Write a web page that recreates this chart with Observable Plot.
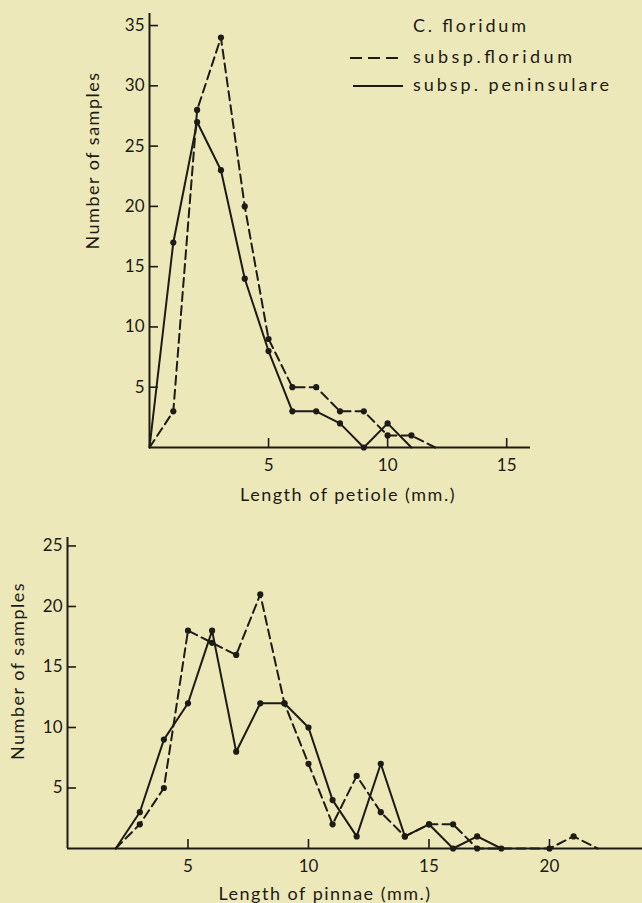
<!DOCTYPE html>
<html><head><meta charset="utf-8">
<script src="https://cdn.jsdelivr.net/npm/d3@7"></script>
<script src="https://cdn.jsdelivr.net/npm/@observablehq/plot@0.6"></script>
<style>
html,body{margin:0;padding:0;background:#ede8b9;}
#wrap{position:relative;width:642px;height:903px;background:#ede8b9;overflow:hidden;font-family:Lato,"DejaVu Sans",sans-serif;color:#1c1b16;}
#top,#bottom,#legend{position:absolute;left:0;}
#top{top:0}
#bottom{top:520px}
#legend{top:0;left:0}
svg{overflow:visible}
</style></head>
<body><div id="wrap"><div id="top"></div><div id="bottom"></div><div id="legend"></div></div>
<script>
// ---- data ----
const petioleFloridumX = [0,1,2,3,4,5,6,7,8,9,10,11,12];
const petioleFloridum  = [0,3,28,34,20,9,5,5,3,3,1,1,0];
const petiolePeninsulareX = [0,1,2,3,4,5,6,7,8,9,10,11];
const petiolePeninsulare  = [0,17,27,23,14,8,3,3,2,0,2,0];

const pinnaeFloridumX = [2,3,4,5,6,7,8,9,10,11,12,13,14,15,16,17,18,20,21,22];
const pinnaeFloridum  = [0,2,5,18,17,16,21,12,7,2,6,3,1,2,2,0,0,0,1,0];
const pinnaePeninsulareX = [2,3,4,5,6,7,8,9,10,11,12,13,14,15,16,17,18];
const pinnaePeninsulare  = [0,3,9,12,18,8,12,12,10,4,1,7,1,2,0,1,0];

const topXTicks = [5,10,15];
const topYTicks = [5,10,15,20,25,30,35];
const bottomXTicks = [5,10,15,20];
const bottomYTicks = [5,10,15,20,25];

const legendTitle = "C. floridum";
const seriesNames = ["subsp.floridum", "subsp. peninsulare"];
const topXLabel = "Length of petiole (mm.)";
const bottomXLabel = "Length of pinnae (mm.)";
const yLabel = "Number of samples";

// ---- helpers ----
const ink = "#1c1b16";
const FONT = "Lato, 'DejaVu Sans', sans-serif";
const toRows = (xs, ys) => xs.map((x, i) => ({x, y: ys[i], inner: i > 0 && i < xs.length - 1}));

function seriesMarks(rows, dashed) {
  return [
    Plot.line(rows, {x: "x", y: "y", stroke: ink, strokeWidth: 2, strokeDasharray: dashed ? "9,5" : null, strokeLinejoin: "miter"}),
    Plot.dot(rows.filter(d => d.inner), {x: "x", y: "y", r: 3.1, fill: ink, stroke: "none"})
  ];
}

function axes(xTicks, yTicks) {
  return [
    Plot.ruleY([0], {stroke: ink, strokeWidth: 2}),
    Plot.ruleX([0], {stroke: ink, strokeWidth: 2}),
    Plot.axisX({ticks: xTicks, tickSize: -9, tickFormat: () => "", label: null, strokeWidth: 1.6, stroke: ink}),
    Plot.axisX({ticks: xTicks, tickSize: 0, tickPadding: 11, label: null, fontSize: 17, fill: ink}),
    Plot.axisY({ticks: yTicks, tickSize: -9, tickFormat: () => "", label: null, strokeWidth: 1.6, stroke: ink}),
    Plot.axisY({ticks: yTicks, tickSize: 0, tickPadding: 5, label: null, fontSize: 17, fill: ink})
  ];
}

// ---- top chart ----
const topPlot = Plot.plot({
  width: 642, height: 520,
  marginLeft: 149, marginRight: 112, marginTop: 13, marginBottom: 73,
  x: {domain: [0, 16], label: null},
  y: {domain: [0, 36], label: null},
  style: {background: "transparent", color: ink, fontFamily: FONT, fontSize: "17px"},
  marks: [
    ...axes(topXTicks, topYTicks),
    ...seriesMarks(toRows(petioleFloridumX, petioleFloridum), true),
    ...seriesMarks(toRows(petiolePeninsulareX, petiolePeninsulare), false),
    Plot.text([topXLabel], {frameAnchor: "bottom", lineAnchor: "bottom", textAnchor: "middle", dy: 53, dx: 8, fontSize: 18, fill: ink}),
    Plot.text([yLabel], {frameAnchor: "left", textAnchor: "middle", lineAnchor: "middle", rotate: -90, dx: -56, dy: -70, fontSize: 18, fill: ink})
  ]
});
document.getElementById("top").appendChild(topPlot);

// ---- bottom chart ----
const bottomPlot = Plot.plot({
  width: 642, height: 383,
  marginLeft: 67, marginRight: 0, marginTop: 17, marginBottom: 55,
  x: {domain: [0, 23.86], label: null},
  y: {domain: [0, 25.7], label: null},
  style: {background: "transparent", color: ink, fontFamily: FONT, fontSize: "17px"},
  marks: [
    ...axes(bottomXTicks, bottomYTicks),
    ...seriesMarks(toRows(pinnaeFloridumX, pinnaeFloridum), true),
    ...seriesMarks(toRows(pinnaePeninsulareX, pinnaePeninsulare), false),
    Plot.text([bottomXLabel], {frameAnchor: "bottom", lineAnchor: "bottom", textAnchor: "middle", dy: 51, dx: -30, fontSize: 18, fill: ink}),
    Plot.text([yLabel], {frameAnchor: "left", textAnchor: "middle", lineAnchor: "middle", rotate: -90, dx: -49, dy: -22, fontSize: 18, fill: ink})
  ]
});
document.getElementById("bottom").appendChild(bottomPlot);

// letter spacing on titles
d3.selectAll("#wrap svg g[aria-label='text'] text").attr("letter-spacing", "1.5px");

// ---- legend ----
const lg = d3.select("#legend").append("svg").attr("width", 642).attr("height", 110)
  .style("font-family", FONT).style("font-size", "18px").attr("fill", ink);
lg.append("text").attr("x", 413).attr("y", 32).text(legendTitle).attr("textLength", 113).attr("lengthAdjust", "spacing");
const rowsY = [58, 86];
seriesNames.forEach((name, i) => {
  lg.append("line").attr("x1", i === 0 ? 350 : 353).attr("x2", 403).attr("y1", rowsY[i]).attr("y2", rowsY[i])
    .attr("stroke", ink).attr("stroke-width", 2).attr("stroke-dasharray", i === 0 ? "12,6" : null);
  lg.append("text").attr("x", 413).attr("y", rowsY[i] + 5).text(name)
    .attr("textLength", i === 0 ? 159 : 196).attr("lengthAdjust", "spacing");
});
</script>
</body></html>
